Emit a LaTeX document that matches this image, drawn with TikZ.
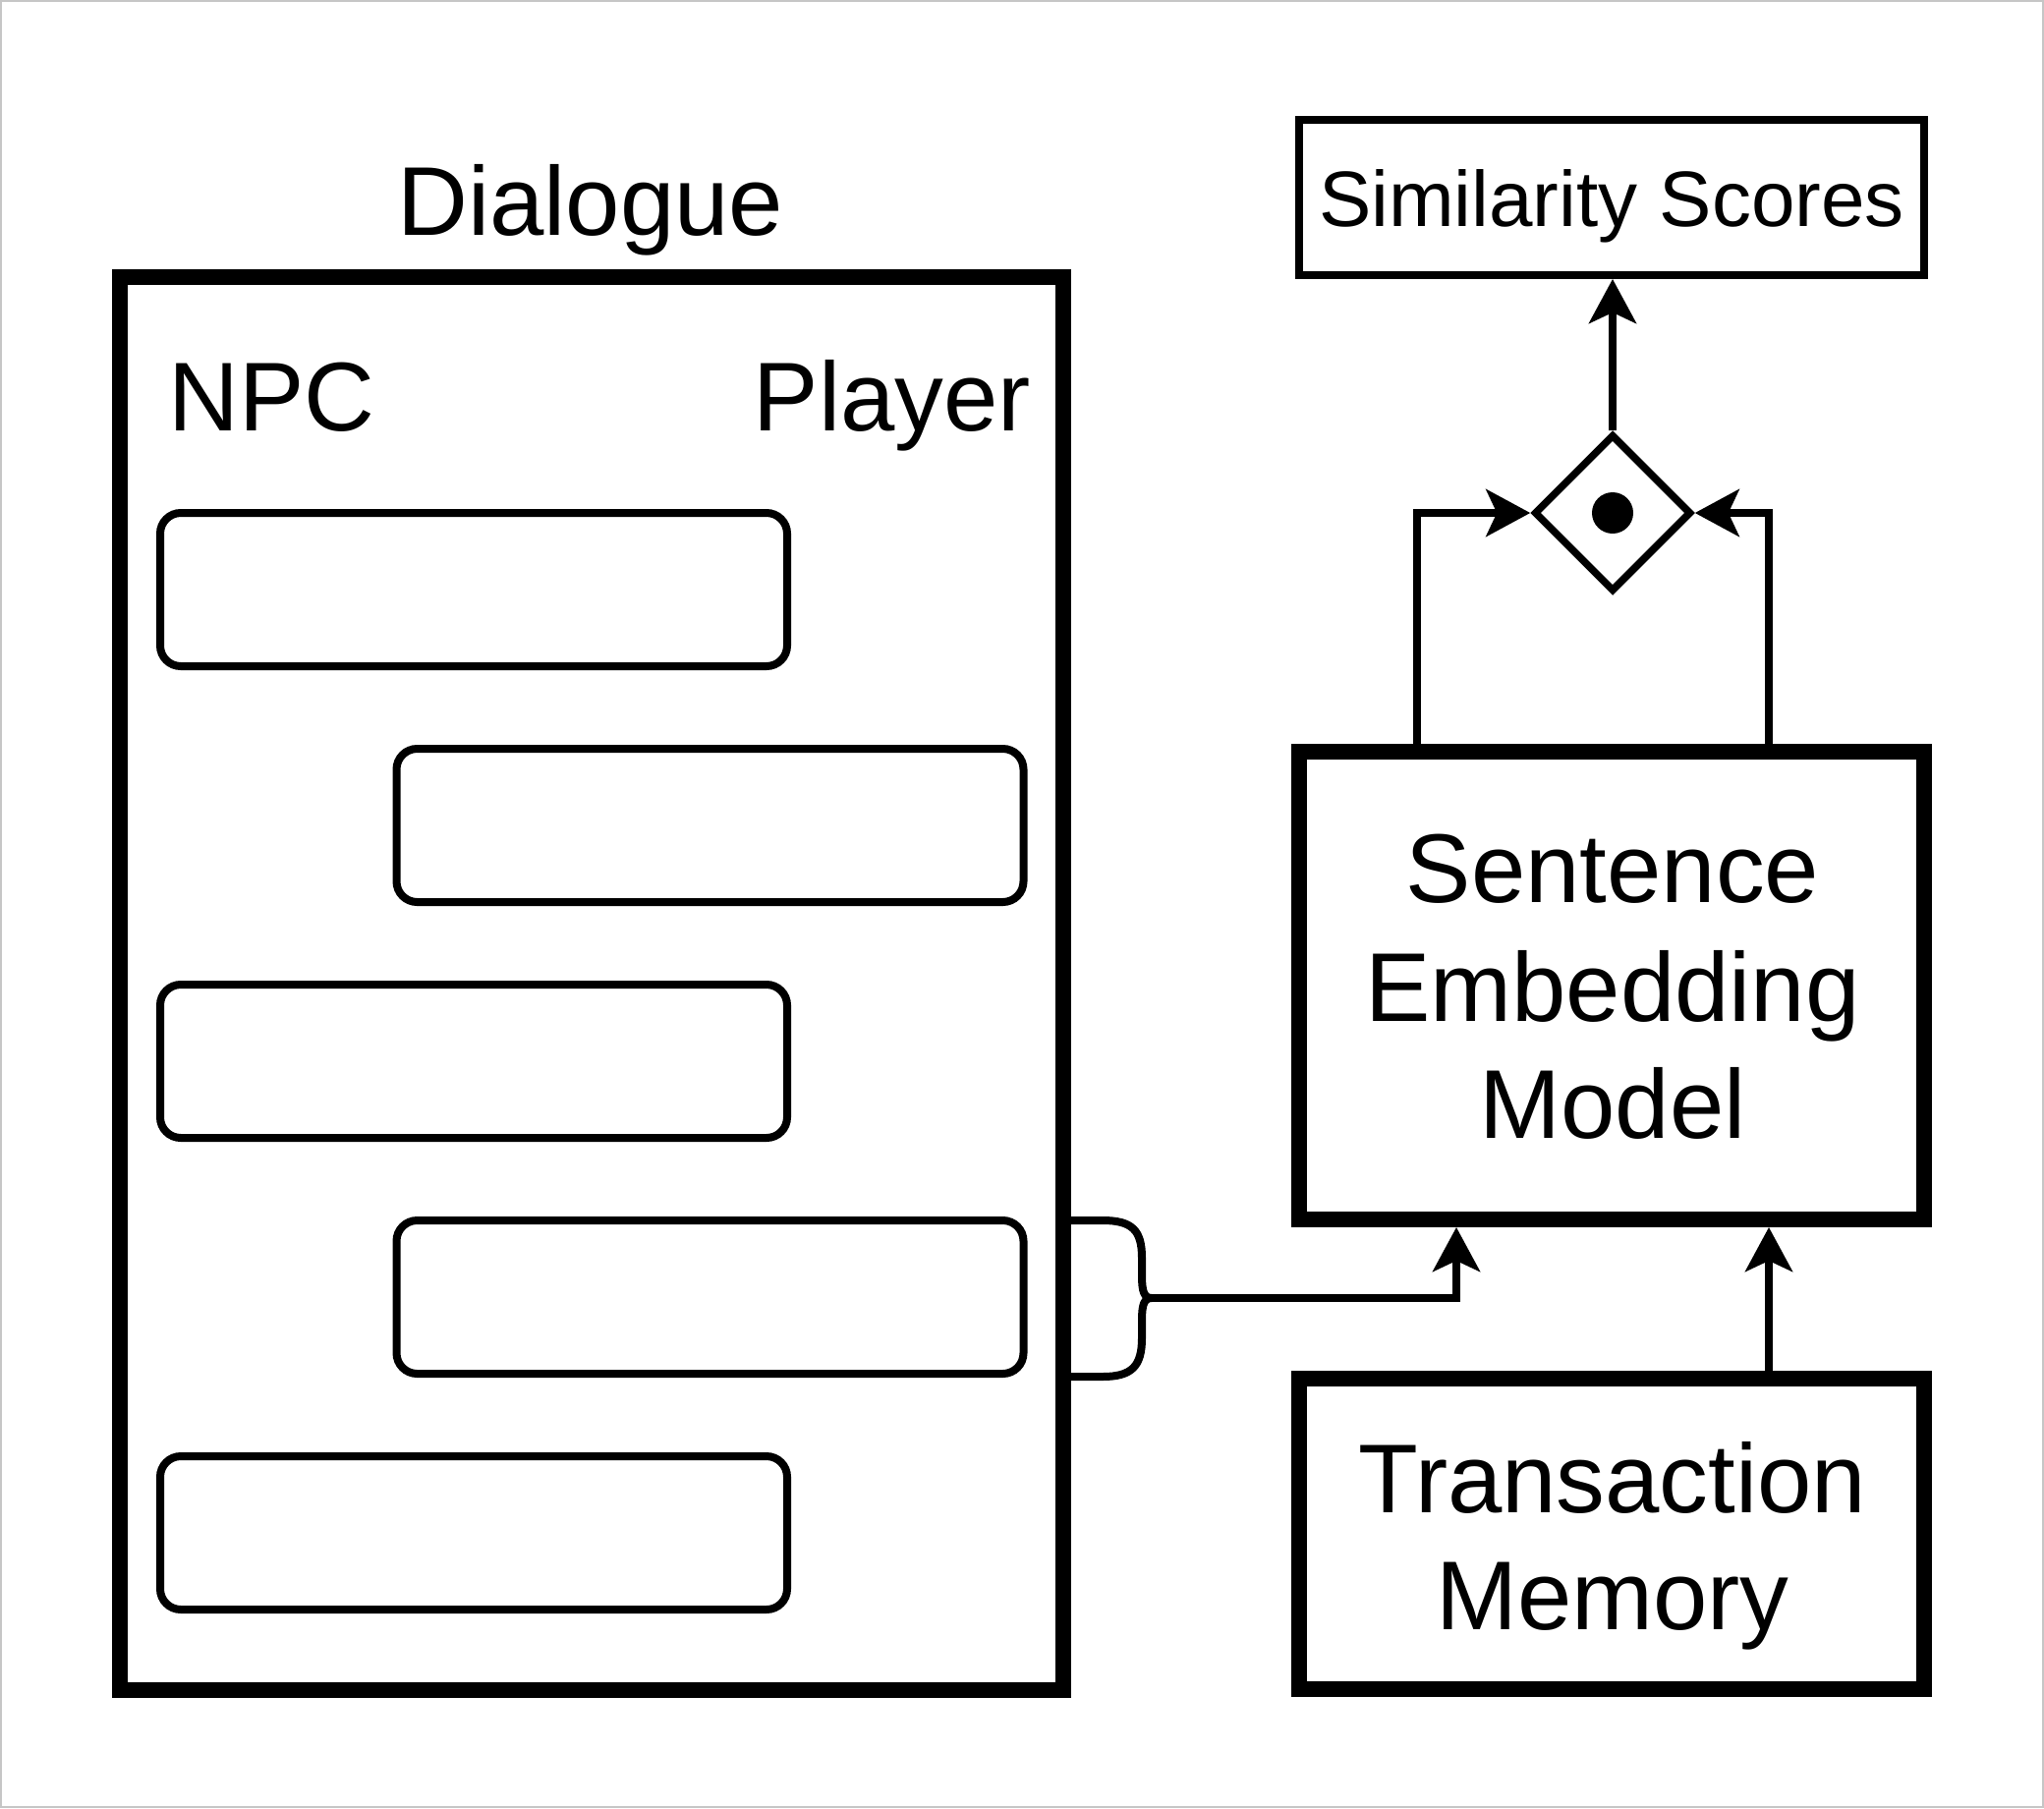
\documentclass[tikz,border=0pt]{standalone}
\usepackage{fontspec}
\setmainfont{Liberation Sans}
\usetikzlibrary{arrows.meta,shapes.geometric,calc}
\tikzset{
  bigbox/.style={draw=black, line width=16pt, rectangle, inner sep=0pt, fill=white},
  simbox/.style={draw=black, line width=8pt, rectangle, inner sep=0pt},
  msgbox/.style={draw=black, line width=8pt, rectangle, rounded corners=21pt, inner sep=0pt,
     minimum width=638pt, minimum height=156pt},
  bigtext/.style={anchor=base, inner sep=0pt, font=\fontsize{99.5}{119}\selectfont},
  simtext/.style={anchor=base, inner sep=0pt, font=\fontsize{80}{100}\selectfont},
  conn/.style={draw=black, line width=7.5pt},
  arr/.style={conn, -{Stealth[length=45pt, width=48pt, inset=11pt]}},
  bracestyle/.style={draw=black, line width=8pt, line join=round},
}
\begin{document}
\begin{tikzpicture}[x=1pt, y=-1pt]
\useasboundingbox (0,0) rectangle (2080,1840);
\draw[gray!45, line width=2pt] (1,1) rectangle (2079,1839);

% Dialogue frame
\node[bigbox, fill=none, minimum width=960pt, minimum height=1438pt] (dlg) at (602,1001) {};
\node[bigtext] (dlgtitle) at (601,239) {Dialogue};
\node[bigtext, anchor=base west] (npc) at (171,438) {NPC};
\node[bigtext, anchor=base east] (player) at (1049,438) {Player};

% message boxes
\node[msgbox] (m1) at (482,600) {};
\node[msgbox] (m2) at (722.5,840) {};
\node[msgbox] (m3) at (482,1080) {};
\node[msgbox] (m4) at (722.5,1320) {};
\node[msgbox] (m5) at (482,1560) {};

% brace
\coordinate (bt) at (1172,1321);
\draw[bracestyle] (1090,1242) -- (1122,1242)
   .. controls (1152,1242) and (1162,1252) .. (1162,1280)
   -- (1162,1298)
   .. controls (1162,1314) and (1164,1321) .. (bt)
   .. controls (1164,1321) and (1162,1328) .. (1162,1344)
   -- (1162,1362)
   .. controls (1162,1390) and (1152,1401) .. (1122,1401)
   -- (1090,1401);

% right side
\node[bigbox, minimum width=636pt, minimum height=476pt] (sem) at (1640,1003) {};
\node[bigtext] (s1) at (1641,918) {Sentence};
\node[bigtext] (s2) at (1641,1039) {Embedding};
\node[bigtext] (s3) at (1641,1158) {Model};

\node[bigbox, minimum width=636pt, minimum height=316pt] (tm) at (1640,1561) {};
\node[bigtext] (t1) at (1641,1539) {Transaction};
\node[bigtext] (t2) at (1641,1658) {Memory};

\node[simbox, minimum width=636pt, minimum height=158pt] (sim) at (1640,201) {};
\node[simtext] (simt) at (1640,230) {Similarity Scores};

\node[draw=black, line width=7.5pt, diamond, aspect=1, minimum width=160pt, minimum height=160pt, inner sep=0pt] (diam) at (1641,522) {};
\fill (diam.center) circle (21pt);

\coordinate (xl) at (1442,0);
\coordinate (xr) at (1800,0);
\coordinate (xm) at (1482,0);

\draw[arr] (bt) -| (xm |- sem.south);
\draw[arr] (xr |- tm.north) -- (xr |- sem.south);
\draw[arr] (xl |- sem.north) |- (diam.west);
\draw[arr] (xr |- sem.north) |- (diam.east);
\draw[arr] (diam.north) -- (diam.north |- sim.south);
\end{tikzpicture}
\end{document}
